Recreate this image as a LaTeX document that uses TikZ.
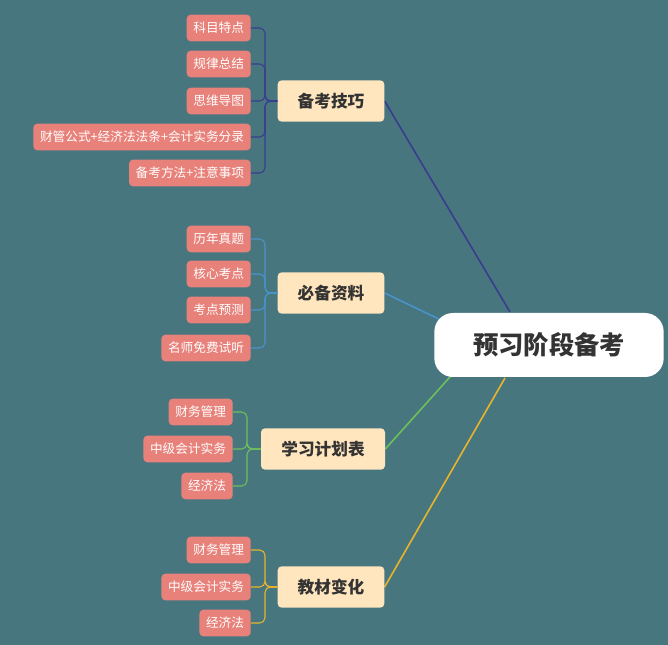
\documentclass[tikz,border=0pt]{standalone}
\usepackage{fontspec}
\setmainfont{Noto Sans CJK SC}
\usetikzlibrary{backgrounds,positioning}
\definecolor{bgc}{HTML}{47767F}
\definecolor{leafc}{HTML}{E8817A}
\definecolor{topicc}{HTML}{FFE6BE}
\definecolor{lnA}{HTML}{3A3C8E}
\definecolor{lnB}{HTML}{4A92CC}
\definecolor{lnC}{HTML}{6FBF5B}
\definecolor{lnD}{HTML}{E8B42C}
\tikzset{
  leaf/.style={fill=leafc,text=white,rounded corners=3pt,font=\fontsize{9.5}{11}\selectfont,
    minimum height=20pt,inner xsep=5pt,anchor=east},
  topic/.style={fill=topicc,text=black!80,rounded corners=3pt,font=\fontsize{12.5}{14}\selectfont\bfseries,
    minimum height=31pt,inner xsep=12pt},
  brk/.style={rounded corners=4pt,line width=0.8pt}
}
\begin{document}
\begin{tikzpicture}[x=0.75pt,y=-0.75pt]
\useasboundingbox (0,0) rectangle (668,645);
% root
\node[fill=white,rounded corners=14pt,minimum width=172pt,minimum height=48pt,
  font=\fontsize{19}{22}\selectfont\bfseries,text=black!80] (root) at (549,345) {预习阶段备考};
% topics
\node[topic,minimum width=80pt] (b1) at (331,101) {备考技巧};
\node[topic,minimum width=80pt] (b2) at (331,293) {必备资料};
\node[topic,minimum width=93pt] (b3) at (323,449) {学习计划表};
\node[topic,minimum width=80pt] (b4) at (331,587) {教材变化};
% leaves of 备考技巧
\node[leaf] (a1) at (251,28) {科目特点};
\node[leaf] (a2) at (251,64) {规律总结};
\node[leaf] (a3) at (251,101) {思维导图};
\node[leaf] (a4) at (251,137) {财管公式+经济法法条+会计实务分录};
\node[leaf] (a5) at (251,173) {备考方法+注意事项};
% leaves of 必备资料
\node[leaf] (c1) at (251,239) {历年真题};
\node[leaf] (c2) at (251,274) {核心考点};
\node[leaf] (c3) at (251,310) {考点预测};
\node[leaf] (c4) at (251,348) {名师免费试听};
% leaves of 学习计划表
\node[leaf] (d1) at (233,412) {财务管理};
\node[leaf] (d2) at (233,449) {中级会计实务};
\node[leaf] (d3) at (233,486) {经济法};
% leaves of 教材变化
\node[leaf] (e1) at (251,550) {财务管理};
\node[leaf] (e2) at (251,587) {中级会计实务};
\node[leaf] (e3) at (251,623) {经济法};
% joints
\coordinate (j1) at (265,101);
\coordinate (j2) at (265,293);
\coordinate (j3) at (247,449);
\coordinate (j4) at (265,587);
\foreach \n in {a1,a2,a3,a4,a5}
  \draw[brk,lnA] (\n.east) -| (j1) -- (b1.west);
\foreach \n in {c1,c2,c3,c4}
  \draw[brk,lnB] (\n.east) -| (j2) -- (b2.west);
\foreach \n in {d1,d2,d3}
  \draw[brk,lnC] (\n.east) -| (j3) -- (b3.west);
\foreach \n in {e1,e2,e3}
  \draw[brk,lnD] (\n.east) -| (j4) -- (b4.west);
\begin{scope}[on background layer]
\fill[bgc] (0,0) rectangle (668,645);
\coordinate (r1) at (510,312);
\coordinate (r2) at (445,322);
\coordinate (r3) at (458,368);
\coordinate (r4) at (505,378);
\draw[lnA,line width=1.2pt] (b1.east) -- (r1);
\draw[lnB,line width=1.2pt] (b2.east) -- (r2);
\draw[lnC,line width=1.2pt] (b3.east) -- (r3);
\draw[lnD,line width=1.2pt] (b4.east) -- (r4);
\end{scope}
\end{tikzpicture}
\end{document}
